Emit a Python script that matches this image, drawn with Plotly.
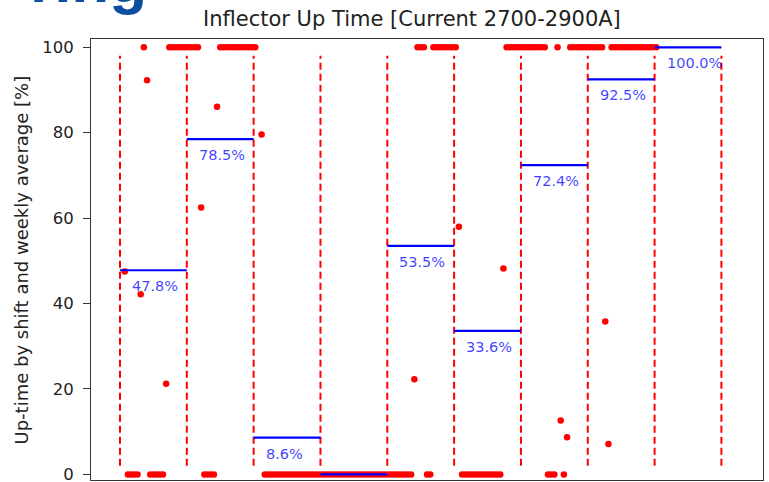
import plotly.graph_objects as go

# ---------------- data ----------------
# Up-time per 8-hour shift [%], 21 shifts per week, None = no record
week1 = [None, 47.5, 0, 0, 0, 0, 42.2, 100, 92.3, 0, 0, 0, 0, 0, 21.2, 100, 100, 100, 100, 100, 100]
week2 = [100, 100, 100, 100, 62.5, 0, 0, 0, 0, 86.1, 100, 100, 100, 100, 100, 100, 100, 100, 100, 100, 100]
week3 = [100, None, 79.6, 0, 0, 0, 0, 0, 0, 0, 0, 0, 0, 0, 0, 0, 0, 0, 0, 0, 0]
week4 = [0, 0, 0, 0, 0, 0, 0, 0, 0, 0, 0, 0, 0, 0, 0, 0, 0, 0, 0, 0, 0]
week5 = [0, 0, 0, 0, 0, 0, 0, 0, 22.3, 100, 100, 100, 0, 0, 100, 100, 100, 100, 100, 100, 100]
week6 = [100, 58.0, 0, 0, 0, 0, 0, 0, 0, 0, 0, 0, 0, 0, 0, 48.2, 100, 100, 100, 100, 100]
week7 = [100, 100, 100, 100, 100, 100, 100, 100, 0, 0, 0, 100, 12.6, 0, 8.7, 100, 100, 100, 100, 100, 100]
week8 = [100, 100, 100, 100, 100, 35.8, 7.1, 100, 100, 100, 100, 100, 100, 100, 100, 100, 100, 100, 100, 100, 100]
week9 = [100]

weekly_average = [47.8, 78.5, 8.6, 0.0, 53.5, 33.6, 72.4, 92.5, 100.0]
shifts_per_week = 21
n_weeks = 9

title_text = "Inflector Up Time [Current 2700-2900A]"
ylabel_text = "Up-time by shift and weekly average [%]"
ytick_values = [0, 20, 40, 60, 80, 100]
logo_text = "ring"

y_range = [-1.31, 101.94]
x_range = [-9.11, 202.07]

# ---------------- build traces ----------------
shift_values = week1 + week2 + week3 + week4 + week5 + week6 + week7 + week8 + week9
shift_x, shift_y = [], []
for k, v in enumerate(shift_values):
    if v is None:
        continue
    shift_x.append(k + 0.5)      # middle of the shift
    shift_y.append(v)

boundaries = [w * shifts_per_week for w in range(n_weeks + 1)]
vx, vy = [], []
for b in boundaries:
    vx += [b, b, None]
    vy += [2, 98, None]

hx, hy = [], []
for w, a in enumerate(weekly_average):
    hx += [boundaries[w], boundaries[w + 1], None]
    hy += [a, a, None]

fig = go.Figure()
fig.add_trace(go.Scatter(x=shift_x, y=shift_y, mode="markers",
                         marker=dict(color="#ff0000", size=6.5, line=dict(width=0)),
                         cliponaxis=False, showlegend=False))
fig.add_trace(go.Scatter(x=vx, y=vy, mode="lines",
                         line=dict(color="#ff0000", width=2, dash="7px,4px"),
                         showlegend=False))
fig.add_trace(go.Scatter(x=hx, y=hy, mode="lines",
                         line=dict(color="#0000ff", width=2.2),
                         cliponaxis=False, showlegend=False))

annotations = []
for w, a in enumerate(weekly_average):
    if a - 6 < y_range[0]:
        continue  # label would fall below the visible area (cut off in the reference)
    annotations.append(dict(x=boundaries[w] + 3.2, y=a, xref="x", yref="y",
                            text=f"{a:.1f}%", showarrow=False,
                            xanchor="left", yanchor="middle", yshift=-16,
                            font=dict(family="DejaVu Sans", size=14.5,
                                      color="rgba(0,0,255,0.75)")))

# y-axis label
annotations.append(dict(x=-0.1027, y=0.5, xref="paper", yref="paper",
                        text=ylabel_text, textangle=-90, showarrow=False,
                        xanchor="center", yanchor="middle",
                        font=dict(family="DejaVu Sans", size=18, color="#222222")))
# title
annotations.append(dict(x=0.478, y=1.0, xref="paper", yref="paper",
                        text=title_text, showarrow=False,
                        xanchor="center", yanchor="bottom", yshift=6,
                        font=dict(family="DejaVu Sans", size=21, color="#222222")))
# partial logo text at top-left
annotations.append(dict(x=0.0863, y=1.0, xref="paper", yref="paper",
                        text="<b>" + logo_text + "</b>", showarrow=False,
                        xanchor="right", yanchor="bottom", yshift=22,
                        font=dict(family="Liberation Sans", size=62, color="#0b4f9e")))

fig.update_layout(
    width=769, height=482,
    margin=dict(l=91, r=6, t=39, b=2),
    paper_bgcolor="white", plot_bgcolor="white",
    showlegend=False,
    annotations=annotations,
    xaxis=dict(range=x_range, showgrid=False, zeroline=False,
               showticklabels=False, ticks="", showline=True, mirror=True,
               linecolor="#333333", linewidth=1),
    yaxis=dict(range=y_range, showgrid=False, zeroline=False, automargin=False,
               tickvals=ytick_values, ticks="outside", ticklen=7, tickwidth=1,
               tickcolor="#333333", showline=True, mirror=True,
               linecolor="#333333", linewidth=1, ticklabelstandoff=6,
               ticklabeloverflow="allow",
               tickfont=dict(family="DejaVu Sans", size=16.5, color="#222222")),
)

fig.write_html("out.html", config={"displayModeBar": False},
               post_script="document.body.style.margin='0';document.body.style.padding='0';")
